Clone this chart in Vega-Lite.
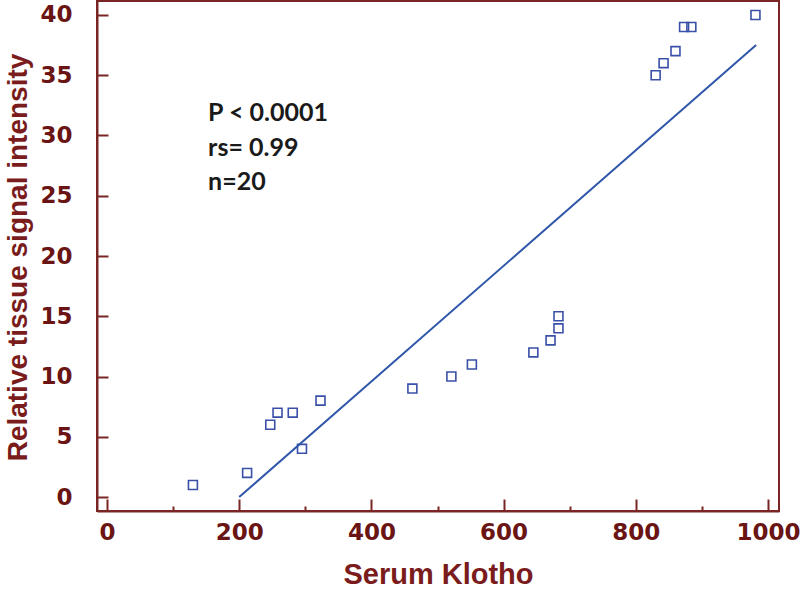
{
  "$schema": "https://vega.github.io/schema/vega-lite/v6.json",
  "autosize": "none",
  "width": 682,
  "height": 510,
  "padding": {"left": 97, "top": 1, "right": 21, "bottom": 78},
  "background": "white",
  "config": {
    "view": {"stroke": "#7a2424", "strokeWidth": 2},
    "axis": {
      "grid": false,
      "domainColor": "#7a2424",
      "domainWidth": 2,
      "tickColor": "#7a2424",
      "tickWidth": 2,
      "labelColor": "#6a1414",
      "labelFont": "DejaVu Sans",
      "labelFontWeight": "bold",
      "labelFontSize": 23,
      "titleColor": "#7a1c1c",
      "titleFont": "Liberation Sans",
      "titleFontWeight": "bold",
      "titleFontSize": 29
    }
  },
  "datasets": {
    "points": [
      {"klotho": 130, "signal": 1},
      {"klotho": 212, "signal": 2},
      {"klotho": 247, "signal": 6},
      {"klotho": 258, "signal": 7},
      {"klotho": 281, "signal": 7},
      {"klotho": 295, "signal": 4},
      {"klotho": 323, "signal": 8},
      {"klotho": 462, "signal": 9},
      {"klotho": 521, "signal": 10},
      {"klotho": 552, "signal": 11},
      {"klotho": 645, "signal": 12},
      {"klotho": 671, "signal": 13},
      {"klotho": 683, "signal": 14},
      {"klotho": 683, "signal": 15},
      {"klotho": 830, "signal": 35},
      {"klotho": 842, "signal": 36},
      {"klotho": 860, "signal": 37},
      {"klotho": 873, "signal": 39},
      {"klotho": 884, "signal": 39},
      {"klotho": 981, "signal": 40}
    ],
    "fit": [
      {"klotho": 200, "signal": 0},
      {"klotho": 982, "signal": 37.5}
    ],
    "notes": [
      {"klotho": 153, "signal": 31.85, "label": "P < 0.0001"},
      {"klotho": 153, "signal": 28.95, "label": "rs= 0.99"},
      {"klotho": 153, "signal": 26.15, "label": "n=20"}
    ]
  },
  "resolve": {"axis": {"x": "independent"}},
  "layer": [
    {
      "data": {"name": "points"},
      "mark": {"type": "point", "shape": "square", "filled": false, "stroke": "#3a50a8", "strokeWidth": 1.6, "size": 80, "opacity": 1},
      "encoding": {
        "x": {
          "field": "klotho", "type": "quantitative",
          "scale": {"domain": [-15.1, 1016.6], "nice": false, "zero": false},
          "axis": {
            "orient": "bottom",
            "values": [0, 200, 400, 600, 800, 1000],
            "format": "d",
            "tickSize": -12,
            "labelPadding": 22,
            "title": "Serum Klotho",
            "titleX": 341,
            "titleY": 72,
            "titleBaseline": "alphabetic",
            "titleAlign": "center"
          }
        },
        "y": {
          "field": "signal", "type": "quantitative",
          "scale": {"domain": [-1.16, 41.16], "nice": false, "zero": false},
          "axis": {
            "values": [0, 5, 10, 15, 20, 25, 30, 35, 40],
            "format": "d",
            "tickSize": -11,
            "labelPadding": 36,
            "title": "Relative tissue signal intensity",
            "titleFontSize": 28,
            "titleX": -71,
            "titleY": 256,
            "titleBaseline": "alphabetic",
            "titleAlign": "center",
            "titleAngle": -90
          }
        }
      }
    },
    {
      "data": {"name": "fit"},
      "mark": {"type": "line", "color": "#2f56a8", "strokeWidth": 2},
      "encoding": {
        "x": {
          "field": "klotho", "type": "quantitative",
          "axis": {
            "orient": "bottom",
            "values": [100, 300, 500, 700, 900],
            "tickSize": -5,
            "labels": false,
            "domain": false,
            "title": null
          }
        },
        "y": {"field": "signal", "type": "quantitative"}
      }
    },
    {
      "data": {"name": "notes"},
      "mark": {"type": "text", "align": "left", "baseline": "middle", "font": "Lato", "fontWeight": "bold", "fontSize": 25, "color": "#1a1a1a"},
      "encoding": {
        "x": {"field": "klotho", "type": "quantitative", "axis": null},
        "y": {"field": "signal", "type": "quantitative"},
        "text": {"field": "label"}
      }
    }
  ]
}
